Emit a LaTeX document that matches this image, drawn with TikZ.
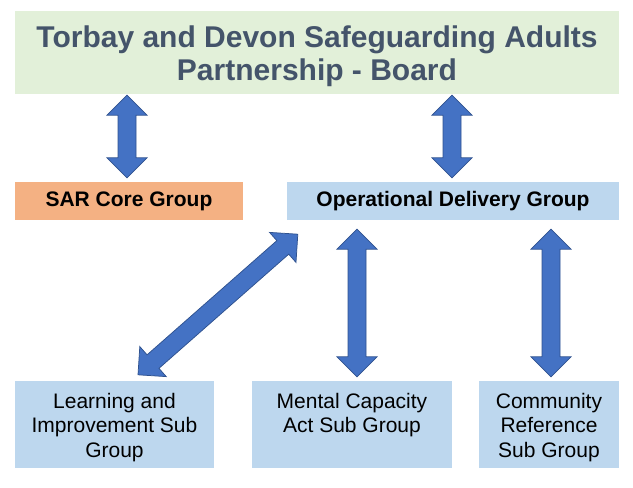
\documentclass[tikz,border=0pt]{standalone}
\usepackage{fontspec}
\setmainfont{Liberation Sans}
\usetikzlibrary{calc,positioning}
\definecolor{boardgreen}{HTML}{E2F0D9}
\definecolor{sarorange}{HTML}{F4B183}
\definecolor{groupblue}{HTML}{BDD7EE}
\definecolor{titleslate}{HTML}{44546A}
\definecolor{arrowblue}{HTML}{4472C4}
\definecolor{arrowedge}{HTML}{2F528F}

% block arrow with a head at both ends
\newcommand{\dblarrow}[2]{%
  \coordinate (h1) at ($(#1)!20pt!(#2)$);
  \coordinate (h2) at ($(#2)!20pt!(#1)$);
  \draw[arrowblock] (#1) -- ($(h1)!20pt!90:(#2)$) -- ($(h1)!9pt!90:(#2)$)
    -- ($(h2)!9pt!-90:(#1)$) -- ($(h2)!20pt!-90:(#1)$) -- (#2)
    -- ($(h2)!20pt!90:(#1)$) -- ($(h2)!9pt!90:(#1)$)
    -- ($(h1)!9pt!-90:(#2)$) -- ($(h1)!20pt!-90:(#2)$) -- cycle;}

\begin{document}
\begin{tikzpicture}[x=1pt,y=-1pt,
  box/.style={rectangle, inner sep=0pt},
  boardbox/.style={box, fill=boardgreen, minimum width=604pt, minimum height=83pt},
  boardtext/.style={inner sep=0pt, align=center, text=titleslate,
    font=\fontsize{30}{33}\selectfont\bfseries},
  groupbox/.style={box, minimum height=38pt, font=\fontsize{21}{24}\selectfont\bfseries},
  subbox/.style={box, fill=groupblue, minimum height=87pt},
  subtext/.style={inner sep=0pt, align=center, font=\fontsize{21}{24.5}\selectfont},
  arrowblock/.style={fill=arrowblue, draw=arrowedge, line width=0.75pt, line join=miter}]

\useasboundingbox (0,0) rectangle (633,488);

% Board
\node[boardbox] (board) at (317,52.5) {};
\node[boardtext] (boardtxt) at ($(board.center)+(0,4)$) {Torbay and Devon Safeguarding Adults\\Partnership - Board};

% Groups
\node[groupbox, fill=sarorange, minimum width=228pt] (sar) at (129,201) {SAR Core Group};
\node[groupbox, fill=groupblue, minimum width=332pt] (odg) at (453,201) {Operational Delivery Group};

% Sub groups
\node[subbox, minimum width=199pt] (learn) at (114.5,424.5) {};
\node[subbox, minimum width=200pt] (mca) at (352,424.5) {};
\node[subbox, minimum width=140pt] (comm) at (549,424.5) {};
\node[subtext, below=12pt of learn.north] (learntxt) {Learning and\\Improvement Sub\\Group};
\node[subtext, below=12pt of mca.north] (mcatxt) {Mental Capacity\\Act Sub Group};
\node[subtext, below=12pt of comm.north] (commtxt) {Community\\Reference\\Sub Group};

% arrow ends
\coordinate (a1) at ($(board.south -| sar.north)+(-2,1)$);
\coordinate (b1) at ($(sar.north)+(-2,-4)$);
\coordinate (a2) at ($(board.south -| odg.north)+(-1,1)$);
\coordinate (b2) at ($(odg.north)+(-1,-4)$);
\coordinate (a3) at ($(odg.south west)+(11,14)$);
\coordinate (b3) at ($(learn.north)+(23.5,-6)$);
\coordinate (a4) at ($(odg.south -| mca.north)+(5,9)$);
\coordinate (b4) at ($(mca.north)+(5,-4)$);
\coordinate (a5) at ($(odg.south -| comm.north)+(2,9)$);
\coordinate (b5) at ($(comm.north)+(2,-4)$);

% Arrows
\foreach \s/\e in {a1/b1,a2/b2,a3/b3,a4/b4,a5/b5}
  \dblarrow{\s}{\e};

\end{tikzpicture}
\end{document}
